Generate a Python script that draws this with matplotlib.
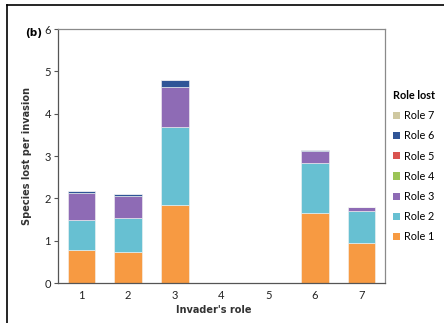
import matplotlib
matplotlib.use('Agg')
import matplotlib.pyplot as plt
import numpy as np
from matplotlib.lines import Line2D
from matplotlib.patches import Patch

invader_roles = [1, 2, 3, 4, 5, 6, 7]
role_names = ['Role 1', 'Role 2', 'Role 3', 'Role 4', 'Role 5', 'Role 6', 'Role 7']
role_colors = ['#F79A42', '#67C0D2', '#8E6BB5', '#9BC456', '#D9534F', '#2F5597', '#CFC8A0']

# species lost per invasion, one list per lost role (stacked bottom to top)
role1 = [0.79, 0.74, 1.84, 0, 0, 1.66, 0.95]
role2 = [0.70, 0.80, 1.84, 0, 0, 1.18, 0.76]
role3 = [0.63, 0.52, 0.96, 0, 0, 0.28, 0.09]
role4 = [0, 0, 0, 0, 0, 0, 0]
role5 = [0, 0, 0, 0, 0, 0, 0]
role6 = [0.05, 0.05, 0.15, 0, 0, 0.03, 0]
role7 = [0, 0, 0, 0, 0, 0, 0]
stacks = [role1, role2, role3, role4, role5, role6, role7]

fig = plt.figure(figsize=(4.44, 3.23), dpi=100)
ax = fig.add_axes([58 / 444, 1 - 283 / 323, 327 / 444, 254 / 323])

bottom = np.zeros(len(invader_roles))
for vals, col in zip(stacks, role_colors):
    vals = np.array(vals)
    ax.bar(invader_roles, vals, bottom=bottom, width=0.59, color=col,
           edgecolor='#f4f4f4', linewidth=0.4)
    bottom += vals

ax.set_xlim(0.5, 7.5)
ax.set_ylim(0, 6)
ax.set_yticks(range(7))
ax.set_xticks(invader_roles)
for s in ax.spines.values():
    s.set_color('#8a8a8a')
    s.set_linewidth(0.9)
ax.spines['bottom'].set_color('#555555')
ax.spines['left'].set_color('#555555')
ax.tick_params(axis='y', length=3, width=0.8, color='#555555', pad=2,
               labelsize=8, labelcolor='#222222')
ax.tick_params(axis='x', length=0, pad=5, labelsize=8, labelcolor='#222222')
for lab in ax.get_xticklabels() + ax.get_yticklabels():
    lab.set_family('Lato')

ax.set_xlabel("Invader's role", fontsize=7, fontweight='bold', family='DejaVu Sans',
              color='#333333')
ax.xaxis.set_label_coords(0.476, -0.085)
ax.set_ylabel('Species lost per invasion', fontsize=7, fontweight='bold',
              family='DejaVu Sans', color='#333333', labelpad=9)

fig.text(25 / 444, 1 - 33 / 323, '(b)', fontsize=7.5, fontweight='bold',
         family='DejaVu Sans', va='center', ha='left')

handles = [Patch(facecolor=c, edgecolor='none') for c in role_colors]
leg = ax.legend(handles[::-1], role_names[::-1], title='Role lost',
                loc='upper left', bbox_to_anchor=(393 / 444, 1 - 90 / 323),
                bbox_transform=fig.transFigure, frameon=False,
                prop={'family': 'Lato', 'size': 7.8},
                handlelength=0.65, handleheight=0.65, handletextpad=0.35,
                labelspacing=0.85, borderaxespad=0, borderpad=0)
leg.get_title().set_fontweight('bold')
leg.get_title().set_fontsize(7.8)
leg.get_title().set_family('Lato')
leg._legend_box.align = 'left'

# outer panel frame
fig.add_artist(Line2D([7 / 444, 7 / 444], [0, 1 - 5 / 323], color='black', lw=1.2))
fig.add_artist(Line2D([7 / 444, 1], [1 - 5 / 323, 1 - 5 / 323], color='black', lw=1.2))

fig.savefig('out.png', dpi=100)
